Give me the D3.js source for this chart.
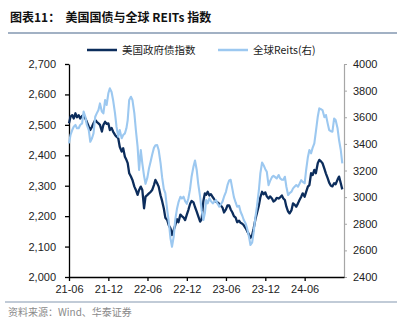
<!DOCTYPE html>
<html><head><meta charset="utf-8">
<script src="https://cdn.jsdelivr.net/npm/d3@7/dist/d3.min.js"></script>
<style>body{margin:0;background:#fff}svg{display:block}</style>
</head><body><svg id="c" width="406" height="324"></svg>
<script>
// ---- data ----
const startYear = 2021, startMonth = 6, monthCount = 42;   // 2021-06 .. 2024-11
const subDays = [1, 8, 16, 23];                             // four observations per month
const xTickLabels = ["21-06", "21-12", "22-06", "22-12", "23-06", "23-12", "24-06"];
const leftTicks = [2000, 2100, 2200, 2300, 2400, 2500, 2600, 2700];
const rightTicks = [2400, 2600, 2800, 3000, 3200, 3400, 3600, 3800, 4000];
const seriesNames = ["美国政府债指数", "全球Reits(右)"];

const usGovBond = [
2505,2527,2532,2521,2538,2525,2532,2521,2529,2532,2521,2510,2494,2483,2494,2505,2516,2510,2505,2500,
2478,2500,2510,2503,2505,2483,2490,2478,2467,2461,2456,2428,2412,2423,2395,2385,2374,2341,2330,2319,
2297,2286,2270,2286,2297,2286,2226,2264,2270,2275,2280,2286,2302,2319,2308,2297,2268,2250,2225,2195,
2187,2170,2160,2138,2155,2170,2190,2180,2205,2200,2195,2187,2205,2220,2240,2250,2245,2230,2215,2200,
2182,2190,2250,2275,2270,2280,2268,2272,2262,2255,2248,2245,2240,2235,2228,2212,2222,2235,2235,2222,
2212,2200,2195,2180,2185,2178,2175,2170,2160,2150,2140,2128,2138,2160,2190,2210,2235,2262,2280,2272,
2278,2265,2258,2265,2258,2248,2252,2260,2258,2262,2268,2258,2253,2231,2215,2209,2220,2242,2237,2231,
2242,2253,2264,2275,2264,2280,2297,2302,2341,2335,2352,2341,2374,2385,2380,2374,2355,2340,2325,2310,
2300,2298,2308,2305,2320,2330,2308,2288];

const globalReits = [
3404,3467,3504,3529,3542,3517,3517,3542,3554,3642,3604,3542,3504,3416,3442,3479,3604,3629,3654,3704,
3642,3629,3730,3692,3780,3817,3790,3730,3629,3529,3454,3504,3442,3467,3479,3517,3579,3730,3754,3730,
3629,3504,3379,3204,3354,3254,3160,3100,3150,3216,3270,3320,3370,3390,3391,3354,3254,3150,3060,3030,
2900,2815,2690,2627,2703,2828,2910,2960,3003,2990,3003,2970,2950,2990,3060,3153,3230,3275,3204,3100,
3000,2900,2828,2880,2978,2953,2991,2970,2953,2965,2978,2950,2928,2945,2966,3003,3040,3090,3125,3130,
3060,3000,2960,2928,2935,2890,2860,2828,2800,2760,2703,2640,2660,2740,2850,2928,3050,3179,3260,3240,
3210,3190,3090,3120,3150,3160,3150,3140,3166,3141,3130,3130,3153,3078,3016,3030,3041,3066,3080,3091,
3078,3100,3128,3115,3104,3204,3300,3354,3329,3370,3404,3491,3604,3667,3660,3654,3600,3617,3554,3504,
3495,3491,3590,3579,3517,3429,3354,3254];

// ---- build dates ----
const dates = [];
for (let m = 0; m < monthCount; m++) for (const d of subDays) dates.push(new Date(startYear, startMonth - 1 + m, d));
const tickDates = xTickLabels.map((s, i) => new Date(startYear, startMonth - 1 + 6 * i, 1));

const svg = d3.select("#c");
const m = {l: 69, r: 344, t: 64, b: 277};
const font = "'Liberation Sans', Arial, sans-serif";
const cjk = "'Noto Sans CJK SC', 'Noto Sans', sans-serif";

const x = d3.scaleTime().domain([new Date(2021, 5, 1), new Date(2024, 11, 1)]).range([m.l, m.r]);
const yL = d3.scaleLinear().domain([2000, 2700]).range([m.b, m.t]);
const yR = d3.scaleLinear().domain([2400, 4000]).range([m.b, m.t]);

const DARK = "#0c2d5c", LIGHT = "#9cc8f0";

// title
svg.append("text").attr("x", 10).attr("y", 22).attr("font-family", cjk).attr("font-weight", "bold")
  .attr("font-size", 12).attr("fill", "#111").attr("xml:space", "preserve")
  .text("图表11：  美国国债与全球 REITs 指数");
svg.append("line").attr("x1", 8).attr("x2", 397).attr("y1", 33).attr("y2", 33)
  .attr("stroke", "#8397b0").attr("stroke-width", 1.5);

// legend
const leg = [{n: seriesNames[0], c: DARK, x: 87}, {n: seriesNames[1], c: LIGHT, x: 218}];
leg.forEach(d => {
  svg.append("line").attr("x1", d.x).attr("x2", d.x + 30).attr("y1", 50).attr("y2", 50)
    .attr("stroke", d.c).attr("stroke-width", 2.5);
  svg.append("text").attr("x", d.x + 35).attr("y", 54).attr("font-family", cjk)
    .attr("font-size", 10.5).attr("fill", "#222").text(d.n);
});

// axes
const gL = svg.append("g").attr("transform", `translate(${m.l},0)`)
  .call(d3.axisLeft(yL).tickValues(leftTicks).tickSize(4).tickSizeOuter(0).tickPadding(9).tickFormat(d3.format(",")));
gL.select(".domain").attr("stroke", "#000").attr("stroke-width", 1.3);
gL.selectAll(".tick line").attr("stroke", "#000").attr("stroke-width", 1.3);
gL.selectAll("text").attr("font-family", font).attr("font-size", 11).attr("fill", "#222");

const gR = svg.append("g").attr("transform", `translate(${m.r},0)`)
  .call(d3.axisRight(yR).tickValues(rightTicks).tickSize(3).tickSizeOuter(0).tickPadding(6).tickFormat(d3.format("d")));
gR.select(".domain").attr("stroke", "#a6a6a6").attr("stroke-width", 1.2);
gR.selectAll(".tick line").attr("stroke", "#a6a6a6");
gR.selectAll("text").attr("font-family", font).attr("font-size", 11).attr("fill", "#222");

// lines
const lineL = d3.line().x((d, i) => x(dates[i])).y(d => yL(d));
const lineR = d3.line().x((d, i) => x(dates[i])).y(d => yR(d));
svg.append("path").datum(usGovBond).attr("d", lineL).attr("fill", "none")
  .attr("stroke", DARK).attr("stroke-width", 2.3).attr("stroke-linejoin", "round");
svg.append("path").datum(globalReits).attr("d", lineR).attr("fill", "none")
  .attr("stroke", LIGHT).attr("stroke-width", 2.1).attr("stroke-linejoin", "round");

const gB = svg.append("g").attr("transform", `translate(0,${m.b})`)
  .call(d3.axisBottom(x).tickValues(tickDates).tickSize(4).tickSizeOuter(0).tickPadding(4)
    .tickFormat((d, i) => xTickLabels[i]));
gB.select(".domain").attr("stroke", "#000").attr("stroke-width", 1.3);
gB.selectAll(".tick line").attr("stroke", "#000").attr("stroke-width", 1.3);
gB.selectAll("text").attr("font-family", font).attr("font-size", 11).attr("fill", "#222");

// footer
svg.append("line").attr("x1", 5).attr("x2", 397).attr("y1", 302).attr("y2", 302)
  .attr("stroke", "#8397b0").attr("stroke-width", 1.2);
svg.append("text").attr("x", 8).attr("y", 316).attr("font-family", cjk).attr("font-size", 10)
  .attr("fill", "#8a8a8a").text("资料来源：Wind、华泰证券");
</script></body></html>
